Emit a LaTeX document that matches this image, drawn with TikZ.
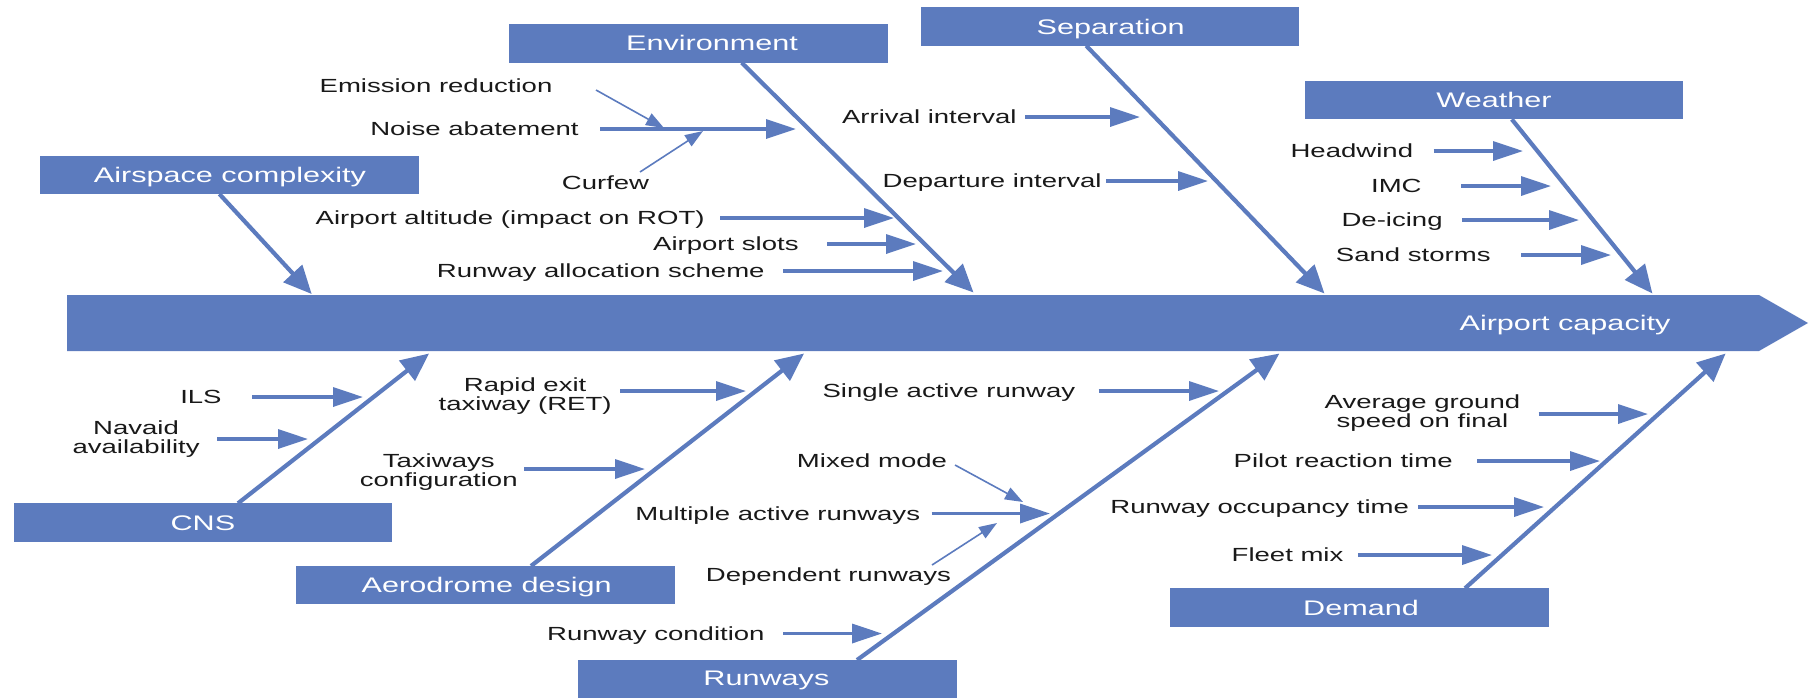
\documentclass[tikz,border=0pt]{standalone}
\usepackage{fontspec}
\setmainfont[FakeStretch=1.45]{Liberation Sans}
\usetikzlibrary{arrows.meta}
\definecolor{fb}{RGB}{92,123,190}
\newcommand{\itemfnt}{\fontsize{9.5pt}{9.7pt}\selectfont}
\newcommand{\boxfnt}{\fontsize{10.55pt}{12pt}\selectfont}
\begin{document}
\begin{tikzpicture}[x=0.5pt,y=-0.5pt,
  box/.style={fill=fb, draw=none, inner sep=0, minimum width=189.4pt, minimum height=19.2pt},
  boxtxt/.style={font=\boxfnt, text=white, inner sep=0, text height=7.55pt, text depth=0pt},
  txt/.style={font=\itemfnt, text=black!90, inner sep=0, text height=6.8pt, text depth=0pt},
  txtb/.style={font=\itemfnt, text=black!90, inner sep=0, align=center},
  item/.style={draw=fb, line width=1.7pt, -{Triangle[length=15pt,width=9.5pt]}},
  thinar/.style={draw=fb, line width=0.8pt, -{Triangle[length=9pt,width=6.5pt]}},
  bone/.style={draw=fb, line width=2.1pt, -{Triangle[length=14pt,width=12.5pt]}}]
\useasboundingbox (0,0) rectangle (1818,697);

% spine
\fill[fb] (67,295) -- (1759,295) -- (1808,323) -- (1759,351) -- (67,351) -- cycle;
\node[boxtxt] (cap) at (1565,322.5) {Airport capacity};

% category boxes
\node[box] (env) at (698.8,43.3) {};
\node[boxtxt] (envL) at (712,43.3) {Environment};
\node[box] (air) at (229.8,175) {};
\node[boxtxt] (airL) at (230,175) {Airspace complexity};
\node[box] (sep) at (1109.9,26.5) {};
\node[boxtxt] (sepL) at (1110.7,26.5) {Separation};
\node[box] (wea) at (1494,99.8) {};
\node[boxtxt] (weaL) at (1494,99.8) {Weather};
\node[box] (cns) at (202.9,522.5) {};
\node[boxtxt] (cnsL) at (202.9,522.5) {CNS};
\node[box] (aer) at (485.2,585) {};
\node[boxtxt] (aerL) at (486.7,585) {Aerodrome design};
\node[box] (rwy) at (767.8,679.3) {};
\node[boxtxt] (rwyL) at (766.4,678.3) {Runways};
\node[box] (dem) at (1359.6,607.5) {};
\node[boxtxt] (demL) at (1361,607.5) {Demand};

% bones
\coordinate (airS) at (219.4,194);   \coordinate (airT) at (311.7,294);
\coordinate (envS) at (741.7,62.7);  \coordinate (envT) at (973.5,292.5);
\coordinate (sepS) at (1086.2,45.7); \coordinate (sepT) at (1324.5,293.5);
\coordinate (weaS) at (1511.8,119.3);\coordinate (weaT) at (1652.4,293.5);
\coordinate (cnsS) at (238,503.3);   \coordinate (cnsT) at (429,353.5);
\coordinate (aerS) at (531,566);     \coordinate (aerT) at (804,353.5);
\coordinate (rwyS) at (857,660);     \coordinate (rwyT) at (1279.4,353.5);
\coordinate (demS) at (1465,588.3);  \coordinate (demT) at (1725.6,353.5);
\draw[bone] (airS) -- (airT);
\draw[bone] (envS) -- (envT);
\draw[bone] (sepS) -- (sepT);
\draw[bone] (weaS) -- (weaT);
\draw[bone] (cnsS) -- (cnsT);
\draw[bone] (aerS) -- (aerT);
\draw[bone] (rwyS) -- (rwyT);
\draw[bone] (demS) -- (demT);

% Environment items
\node[txt] (emi) at (436,86) {Emission reduction};
\node[txt,anchor=east] (noi) at (579,129) {Noise abatement};
\node[txt] (cur) at (605.5,183) {Curfew};
\node[txt,anchor=east] (alt) at (705,218) {Airport altitude (impact on ROT)};
\node[txt,anchor=east] (slo) at (799,244) {Airport slots};
\node[txt,anchor=east] (all) at (765,271) {Runway allocation scheme};
\coordinate (noiT) at (796,129);
\coordinate (altT) at (894,218);
\coordinate (sloT) at (916,244);
\coordinate (allT) at (943,271);
\draw[item, shorten <=10.5pt] (noi.east) -- (noiT);
\draw[item, shorten <=7.5pt] (alt.east) -- (altT);
\draw[item, shorten <=14pt] (slo.east) -- (sloT);
\draw[item, shorten <=9pt] (all.east) -- (allT);
\coordinate (emiS) at (596,90);  \coordinate (emiT) at (664,128);
\coordinate (curS) at (640,172); \coordinate (curT) at (703,131);
\draw[thinar] (emiS) -- (emiT);
\draw[thinar] (curS) -- (curT);

% Separation items
\node[txt,anchor=east] (arr) at (1017,117) {Arrival interval};
\node[txt,anchor=east] (dep) at (1102,181) {Departure interval};
\coordinate (arrT) at (1140,117);
\coordinate (depT) at (1208,181);
\draw[item, shorten <=4pt] (arr.east) -- (arrT);
\draw[item, shorten <=2pt] (dep.east) -- (depT);

% Weather items
\node[txt,anchor=east] (hea) at (1413.5,151) {Headwind};
\node[txt,anchor=east] (imc) at (1422,186) {IMC};
\node[txt,anchor=east] (dei) at (1443,220) {De-icing};
\node[txt,anchor=east] (san) at (1491,255) {Sand storms};
\coordinate (heaT) at (1523,151);
\coordinate (imcT) at (1551,186);
\coordinate (deiT) at (1579,220);
\coordinate (sanT) at (1611,255);
\draw[item, shorten <=10pt] (hea.east) -- (heaT);
\draw[item, shorten <=19.5pt] (imc.east) -- (imcT);
\draw[item, shorten <=9.5pt] (dei.east) -- (deiT);
\draw[item, shorten <=15pt] (san.east) -- (sanT);

% CNS items
\node[txt,anchor=east] (ils) at (222,397) {ILS};
\node[txtb,anchor=east] (nav) at (200,439) {Navaid\\availability};
\coordinate (ilsT) at (363,397);
\coordinate (navT) at (308,439);
\draw[item, shorten <=15pt] (ils.east) -- (ilsT);
\draw[item, shorten <=8.5pt] (nav.east) -- (navT);

% Aerodrome design items
\node[txtb,anchor=east] (ret) at (612,396) {Rapid exit\\taxiway (RET)};
\node[txtb,anchor=east] (tax) at (518,472) {Taxiways\\configuration};
\coordinate (retT) at (746,391);
\coordinate (taxT) at (645,469);
\draw[item, shorten <=4pt] (ret.east |- retT) -- (retT);
\draw[item, shorten <=3pt] (tax.east |- taxT) -- (taxT);

% Runways items
\node[txt,anchor=east] (sin) at (1075.6,391) {Single active runway};
\node[txt] (mix) at (872,461) {Mixed mode};
\node[txt,anchor=east] (mul) at (920.5,513.5) {Multiple active runways};
\node[txt] (dpr) at (828.4,575) {Dependent runways};
\node[txt,anchor=east] (rco) at (765,633.5) {Runway condition};
\coordinate (sinT) at (1219,391);
\coordinate (mulT) at (1050,513.5);
\coordinate (rcoT) at (882,633.5);
\draw[item, shorten <=11.5pt] (sin.east) -- (sinT);
\draw[item, shorten <=5.5pt] (mul.east) -- (mulT);
\draw[item, shorten <=9pt] (rco.east) -- (rcoT);
\coordinate (mixS) at (955,465); \coordinate (mixT) at (1023,502);
\coordinate (dprS) at (932,565); \coordinate (dprT) at (997,523);
\draw[thinar] (mixS) -- (mixT);
\draw[thinar] (dprS) -- (dprT);

% Demand items
\node[txtb,anchor=east] (avg) at (1520.6,413) {Average ground\\speed on final};
\node[txt,anchor=east] (pil) at (1453,461) {Pilot reaction time};
\node[txt,anchor=east] (roc) at (1409.4,507) {Runway occupancy time};
\node[txt,anchor=east] (fle) at (1343.8,555) {Fleet mix};
\coordinate (avgT) at (1648,414);
\coordinate (pilT) at (1600,461);
\coordinate (rocT) at (1544,507);
\coordinate (fleT) at (1492,555);
\draw[item, shorten <=9pt] (avg.east |- avgT) -- (avgT);
\draw[item, shorten <=12pt] (pil.east) -- (pilT);
\draw[item, shorten <=4.5pt] (roc.east) -- (rocT);
\draw[item, shorten <=7pt] (fle.east) -- (fleT);
\end{tikzpicture}
\end{document}
